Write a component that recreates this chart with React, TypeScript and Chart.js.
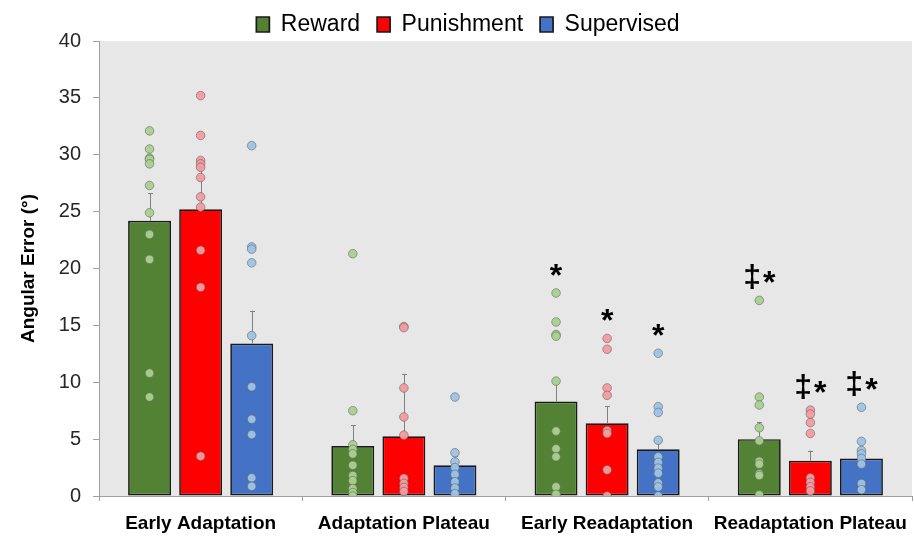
import React, { useEffect, useRef } from 'react';
import { Chart, registerables } from 'chart.js';

Chart.register(...registerables);

const categories = ['Early Adaptation', 'Adaptation Plateau', 'Early Readaptation', 'Readaptation Plateau'];
const seriesNames = ['Reward', 'Punishment', 'Supervised'];

const rewardMeans = [24.2, 4.4, 8.3, 5.0];
const punishmentMeans = [25.2, 5.25, 6.4, 3.1];
const supervisedMeans = [13.4, 2.7, 4.1, 3.3];

const rewardErr = [2.4, 1.8, 1.8, 1.5];
const punishmentErr = [4.2, 5.5, 1.5, 0.9];
const supervisedErr = [2.9, 0.8, 0.8, 0.6];

const rewardPts = [
  [32.1, 30.5, 29.7, 29.6, 29.2, 27.3, 24.9, 23.0, 20.8, 10.8, 8.7],
  [21.3, 7.5, 4.5, 4.1, 3.7, 2.7, 1.8, 1.35, 0.65, 0.3, 0.0],
  [17.85, 15.3, 14.2, 14.05, 10.1, 5.7, 4.15, 3.45, 0.8, 0.15],
  [17.2, 8.7, 8.0, 6.0, 4.85, 3.05, 2.8, 1.95, 1.8, 0.1],
];
const punishmentPts = [
  [35.2, 31.7, 29.5, 29.2, 28.9, 28.0, 26.3, 25.4, 21.6, 18.35, 3.5],
  [14.9, 14.8, 9.5, 6.95, 5.35, 1.55, 1.1, 0.75, 0.4],
  [13.85, 12.9, 9.5, 8.85, 5.75, 5.5, 2.3, 0.0],
  [7.55, 7.2, 6.45, 5.5, 1.6, 1.2, 0.8, 0.45],
];
const supervisedPts = [
  [30.8, 21.9, 21.7, 20.5, 14.1, 9.6, 6.75, 5.4, 1.6, 0.85],
  [8.7, 3.8, 3.0, 2.5, 1.9, 1.25, 0.7, 0.2],
  [12.55, 7.85, 7.35, 4.9, 3.45, 2.95, 2.45, 2.0, 1.15, 0.8, 0.0],
  [7.8, 4.8, 4.0, 3.7, 3.3, 2.8, 1.1, 0.55],
];

const rewardMarks = ['', '', '*', '‡*'];
const punishmentMarks = ['', '', '*', '‡*'];
const supervisedMarks = ['', '', '*', '‡*'];

const yTicksMin = 0;
const yTicksMax = 40;
const yTickStep = 5;

const FONT = "'Liberation Sans', Arial, sans-serif";
const CAT_PCT = 0.754;
const BAR_PCT = 0.84;

const barColors = ['#548235', '#ff0000', '#4472c4'];
const pointColors = ['rgba(169,209,142,0.95)', 'rgba(245,155,160,0.95)', 'rgba(157,195,230,0.95)'];
const means = [rewardMeans, punishmentMeans, supervisedMeans];
const errs = [rewardErr, punishmentErr, supervisedErr];
const pts = [rewardPts, punishmentPts, supervisedPts];
const marks = [rewardMarks, punishmentMarks, supervisedMarks];

// horizontal slot of a series inside its category, in category units
const slotOffset = (s: number) => (s - (seriesNames.length - 1) / 2) * (CAT_PCT / seriesNames.length);

const bgPlugin = {
  id: 'plotBg',
  beforeDraw(chart: any) {
    const { ctx, chartArea } = chart;
    ctx.save();
    ctx.fillStyle = '#e7e7e7';
    ctx.fillRect(chartArea.left, chartArea.top, chartArea.right - chartArea.left, chartArea.bottom - chartArea.top);
    ctx.restore();
  },
};

const legendFitPlugin = {
  id: 'legendFit',
  beforeInit(chart: any) {
    const lg = chart.legend;
    if (!lg) return;
    const orig = lg.fit;
    lg.fit = function () {
      orig.call(this);
      this.height = 45;
    };
  },
  afterLayout(chart: any) {
    const lg = chart.legend;
    if (lg) lg.left += 24;
  },
};

const errorBarPlugin = {
  id: 'errorBars',
  afterDatasetDraw(chart: any, args: any) {
    const ds = chart.data.datasets[args.index];
    if (!ds.errors) return;
    const { ctx } = chart;
    const y = chart.scales.y;
    ctx.save();
    ctx.strokeStyle = '#808080';
    ctx.lineWidth = 1;
    args.meta.data.forEach((bar: any, i: number) => {
      const top = y.getPixelForValue(ds.data[i].y + ds.errors[i]);
      const x = Math.round(bar.x) + 0.5;
      ctx.beginPath();
      ctx.moveTo(x, bar.y);
      ctx.lineTo(x, top);
      ctx.moveTo(x - 2.5, Math.round(top) + 0.5);
      ctx.lineTo(x + 2.5, Math.round(top) + 0.5);
      ctx.stroke();
    });
    ctx.restore();
  },
};

const marksPlugin = {
  id: 'sigMarks',
  afterDatasetsDraw(chart: any) {
    const { ctx } = chart;
    const y = chart.scales.y;
    ctx.save();
    ctx.fillStyle = '#000';
    ctx.font = `bold 32px ${FONT}`;
    ctx.textAlign = 'left';
    ctx.textBaseline = 'alphabetic';
    for (let s = 0; s < 3; s++) {
      const meta = chart.getDatasetMeta(s);
      marks[s].forEach((m, i) => {
        if (!m) return;
        const cx = meta.data[i].x;
        const cy = y.getPixelForValue(Math.max(...pts[s][i])) - 23;
        const chars = Array.from(m);
        const ms = chars.map((c) => ctx.measureText(c));
        const gap = chars.length > 1 ? 2 : 0;
        const total = ms.reduce((a, b) => a + b.width, 0) + gap * (chars.length - 1);
        let x = cx - total / 2;
        chars.forEach((c, k) => {
          const mm = ms[k];
          const base = cy + (mm.actualBoundingBoxAscent - mm.actualBoundingBoxDescent) / 2;
          ctx.fillText(c, x, base);
          x += mm.width + gap;
        });
      });
    }
    ctx.restore();
  },
};

export default function App() {
  const ref = useRef<HTMLCanvasElement>(null);
  useEffect(() => {
    document.body.style.margin = '0';
    const canvas = ref.current;
    if (!canvas) return;
    Chart.defaults.font.family = FONT;

    const barSets = seriesNames.map((name, s) => ({
      type: 'bar' as const,
      label: name,
      data: means[s].map((v, i) => ({ x: i + slotOffset(s), y: v })),
      errors: errs[s],
      backgroundColor: barColors[s],
      borderColor: '#1a1a1a',
      borderWidth: 1.7,
      borderSkipped: false,
      grouped: false,
      categoryPercentage: 1,
      barPercentage: BAR_PCT,
      xAxisID: 'xs',
      yAxisID: 'y',
      order: 2,
    }));
    const scatterSets = seriesNames.map((name, s) => ({
      type: 'scatter' as const,
      label: name + ' individuals',
      data: pts[s].flatMap((vals, i) => vals.map((v) => ({ x: i + slotOffset(s), y: v }))),
      backgroundColor: pointColors[s],
      borderColor: 'rgba(100,100,100,0.75)',
      borderWidth: 0.8,
      pointRadius: 4.3,
      xAxisID: 'xs',
      yAxisID: 'y',
      order: 1,
    }));

    const chart = new Chart(canvas, {
      type: 'bar',
      data: { labels: categories, datasets: [...barSets, ...scatterSets] as any },
      options: {
        responsive: false,
        animation: false,
        devicePixelRatio: 1,
        layout: { autoPadding: false, padding: { top: -4, right: 2, left: 0, bottom: 0 } },
        plugins: {
          tooltip: { enabled: false },
          legend: {
            position: 'top',
            labels: {
              filter: (item: any) => item.datasetIndex < 3,
              font: { size: 23, family: FONT },
              color: '#000',
              boxWidth: 13,
              boxHeight: 15,
              padding: 17,
            },
          },
        },
        scales: {
          x: {
            type: 'category',
            offset: true,
            grid: { display: true, drawOnChartArea: false, drawTicks: true, tickLength: 5, color: '#a0a0a0', offset: true },
            border: { display: true, color: '#a0a0a0', width: 1 },
            ticks: {
              font: { size: 19, weight: 'bold', family: FONT },
              color: '#000',
              maxRotation: 0,
              minRotation: 0,
              autoSkip: false,
              padding: 11,
            },
            afterFit: (sc: any) => {
              sc.height = 41;
              sc.paddingLeft = 0;
              sc.paddingRight = 0;
            },
          },
          xs: {
            type: 'linear',
            axis: 'x',
            display: false,
            offset: false,
            min: -0.5,
            max: categories.length - 0.5,
            grid: { display: false },
          },
          y: {
            type: 'linear',
            min: yTicksMin,
            max: yTicksMax,
            grid: { display: true, drawOnChartArea: false, drawTicks: true, tickLength: 6, color: '#a0a0a0' },
            border: { display: true, color: '#a0a0a0', width: 1 },
            ticks: { stepSize: yTickStep, font: { size: 20, family: FONT }, color: '#262626', padding: 12 },
            title: {
              display: true,
              text: 'Angular Error (°)',
              font: { size: 19, weight: 'bold', family: FONT },
              color: '#000',
              padding: { top: 17, bottom: 0 },
            },
            afterFit: (sc: any) => { sc.width = 99; },
          },
        },
      } as any,
      plugins: [bgPlugin, legendFitPlugin, errorBarPlugin, marksPlugin],
    });
    return () => chart.destroy();
  }, []);

  return (
    <div style={{ width: 914, height: 537 }}>
      <canvas ref={ref} width={914} height={537} style={{ display: 'block' }} />
    </div>
  );
}
